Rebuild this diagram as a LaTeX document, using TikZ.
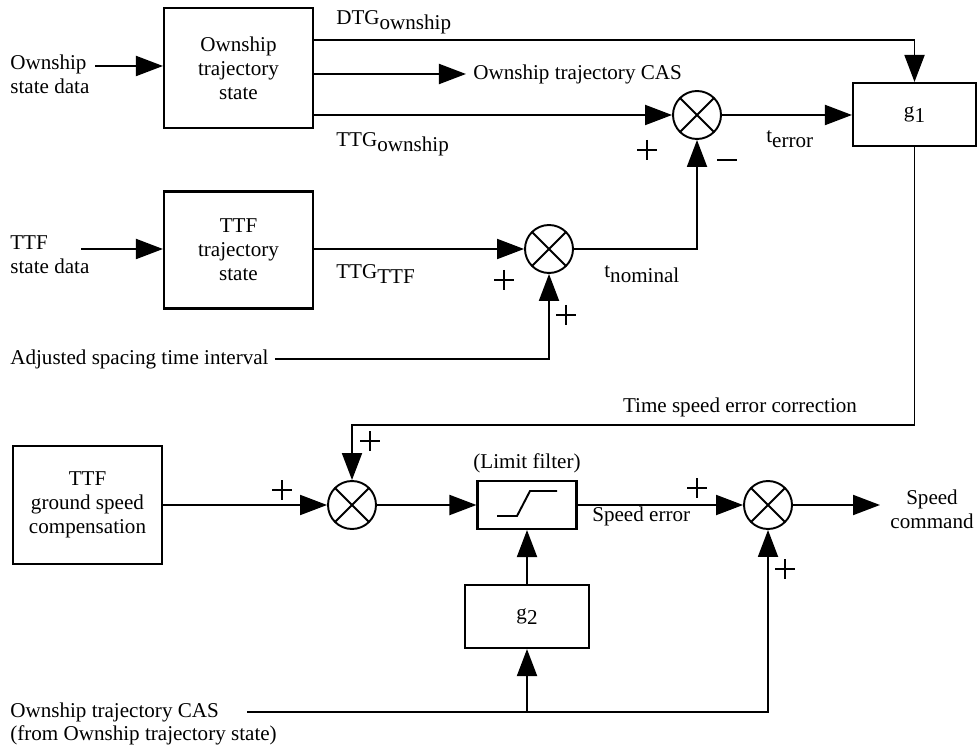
\documentclass[tikz,border=0pt]{standalone}
\usepackage{fontspec}
\setmainfont{Liberation Serif}
\usetikzlibrary{arrows.meta}
\newcommand\lowsub[1]{\raisebox{-0.5ex}{#1}}
\begin{document}
\begin{tikzpicture}[x=0.02cm,y=-0.02cm,
  every node/.style={font=\fontsize{12}{13.6}\selectfont, inner sep=0pt},
  blk/.style={draw, line width=1.2pt, rectangle, align=center},
  sumj/.style={draw, line width=1.1pt, circle, minimum size=0.96cm,
    path picture={\draw[line width=1.1pt] (path picture bounding box.north west)--(path picture bounding box.south east)
      (path picture bounding box.north east)--(path picture bounding box.south west);}},
  ln/.style={line width=1.1pt},
  sgnln/.style={line width=1.2pt},
  arr/.style={line width=1.1pt, -{Triangle[length=0.54cm,width=0.4cm]}},
  lbl/.style={anchor=west}]
\useasboundingbox (0,0) rectangle (979,749);
% blocks
\node[blk, minimum width=2.98cm, minimum height=2.4cm] (own) at (238.5,68) {Ownship\\trajectory\\state};
\node[blk, minimum width=2.98cm, minimum height=2.34cm] (ttf) at (238.5,250) {TTF\\trajectory\\state};
\node[blk, minimum width=2.46cm, minimum height=1.26cm] (g1) at (914.5,114.5) {g\lowsub{1}};
\node[blk, minimum width=2.98cm, minimum height=2.36cm] (gsc) at (87.5,505) {TTF\\ground speed\\compensation};
\node[blk, minimum width=1.98cm, minimum height=0.96cm] (lim) at (527,505) {};
\node[blk, minimum width=2.48cm, minimum height=1.26cm] (g2) at (527,616.5) {g\lowsub{2}};
\draw[ln] (497,516) -- (517,516) -- (530,491) -- (557,491);
% summing junctions
\node[sumj] (s1) at (697,115) {};
\node[sumj] (s2) at (549,249) {};
\node[sumj] (s3) at (352,505) {};
\node[sumj] (s4) at (768,505) {};
% text labels
\node[lbl, align=left] (owndata) at (10,74) {Ownship\\state data};
\node[lbl, align=left] (ttfdata) at (10,255) {TTF\\state data};
\node[lbl] (adj) at (10,359) {Adjusted spacing time interval};
\node[lbl, align=left] (cas) at (10,724) {Ownship trajectory CAS\\(from Ownship trajectory state)};
\node[lbl] (dtg) at (336,22) {DTG\lowsub{ownship}};
\node[lbl] (ttgo) at (336,144) {TTG\lowsub{ownship}};
\node[lbl] (ocas) at (473,74) {Ownship trajectory CAS};
\node[lbl] (ttgt) at (336,274) {TTG\lowsub{TTF}};
\node[lbl] (tnom) at (604,274) {t\lowsub{nominal}};
\node[lbl] (terr) at (766,139) {t\lowsub{error}};
\node (tsec) at (740,407) {Time speed error correction};
\node (limf) at (527,463) {(Limit filter)};
\node[lbl] (serr) at (592,516) {Speed error};
\node[align=center] (scmd) at (932,509) {Speed\\command};
% signs
\foreach \px/\py in {647/150, 504/280, 566/315, 370/441, 282/490, 697/488, 785/569}
  \draw[sgnln] (\px-10,\py) -- (\px+10,\py) (\px,\py-10) -- (\px,\py+10);
\draw[sgnln] (717,160) -- (737,160);
% connectors
\coordinate (oin) at (95,66);
\draw[arr] (oin) -- (own.west |- oin);
\coordinate (tin) at (81,249);
\draw[arr] (tin) -- (ttf.west |- tin);
\draw[arr] (own.east |- 0,40) -| (g1.north);
\draw[arr] (own.east |- ocas) -- ([xshift=-4]ocas.west);
\draw[arr] (own.east |- s1) -- (s1.west);
\draw[arr] (s1.east) -- (g1.west |- s1);
\draw[arr] (ttf.east |- s2) -- (s2.west);
\draw[arr] (adj.east) ++(6,0) coordinate (adjs) -| (s2.south);
\draw[arr] (s2.east) -| (s1.south);
\draw[arr] (g1.south) |- (352,425) -- (s3.north);
\draw[arr] (gsc.east) -- (s3.west);
\draw[arr] (s3.east) -- (lim.west);
\draw[arr] (lim.east) -- (s4.west);
\draw[arr] (g2.north) -- (lim.south);
\draw[arr] (s4.east) -- (880,505);
\coordinate (casend) at (247,712);
\draw[arr] (casend) -| (s4.south);
\draw[arr] (g2.south |- casend) -- (g2.south);
\end{tikzpicture}
\end{document}
